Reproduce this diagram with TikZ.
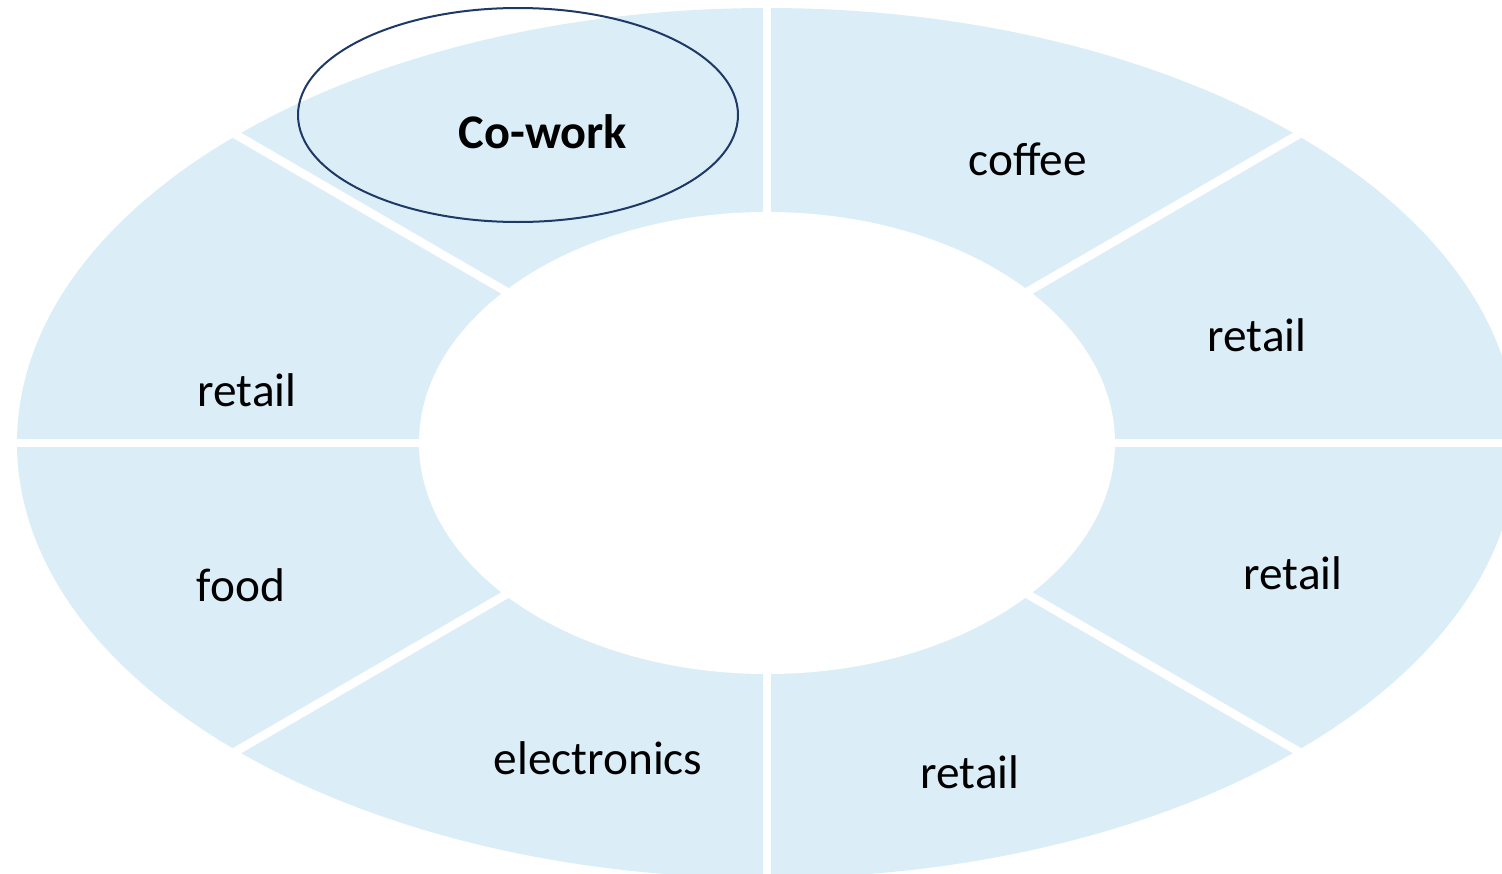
\documentclass[tikz,border=0pt]{standalone}
\usepackage{fontspec}
\setmainfont{Carlito}
\usepackage{tikz}
\usetikzlibrary{shapes}
\definecolor{ringblue}{RGB}{219,238,248}
\definecolor{navyline}{RGB}{31,57,102}
\tikzset{
  sector/.style={inner sep=0pt,font=\fontsize{47.5}{57}\selectfont},
  gap/.style={white,line width=8.5bp},
}

\begin{document}
\begin{tikzpicture}
\useasboundingbox (0bp,0bp) rectangle (1502bp,-874bp);
\begin{scope}
\clip (0bp,0bp) rectangle (1502bp,-874bp);
\coordinate (C) at (767bp,-443bp);
\fill[ringblue] (C) ellipse [x radius=750bp,y radius=435bp];
\fill[white] (C) ellipse [x radius=348bp,y radius=231bp];
\foreach \a in {0,45,...,315}
  \draw[gap] (C) -- ([shift={(\a:770bp and 447bp)}]C);
\end{scope}

\node (ring) at (518bp,-115bp)[draw=navyline,line width=2bp,ellipse,minimum width=440bp,minimum height=214bp] {};
\node (cowork) at (543bp,-132bp)[sector,font=\fontsize{48.5}{58}\selectfont\bfseries] {Co-work};
\node (coffee) at (1028bp,-159bp)[sector] {coffee};
\node (retailA) at (1257bp,-335bp)[sector] {retail};
\node (retailB) at (1293bp,-573bp)[sector] {retail};
\node (retailC) at (970bp,-772bp)[sector] {retail};
\node (electronics) at (598bp,-758bp)[sector] {electronics};
\node (food) at (241bp,-585bp)[sector] {food};
\node (retailD) at (247bp,-390bp)[sector] {retail};
\end{tikzpicture}
\end{document}
